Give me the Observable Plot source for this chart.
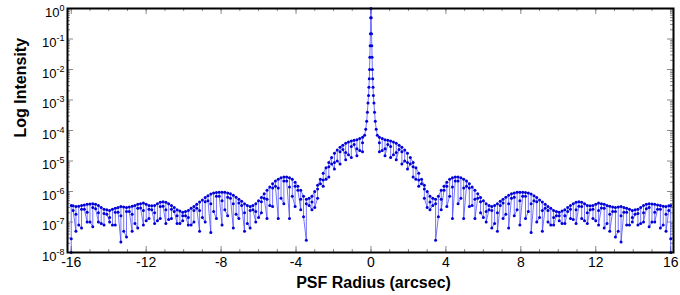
<!DOCTYPE html>
<html><head><meta charset="utf-8">
<script src="https://cdn.jsdelivr.net/npm/d3@7"></script>
<script src="https://cdn.jsdelivr.net/npm/@observablehq/plot@0.6"></script>
<style>body{margin:0;background:#fff}</style>
</head><body><div id="chart"></div>
<script>
// ---- data (profile is symmetric about 0) ----
const coreR = [0, 0.015, 0.03, 0.045, 0.06, 0.075, 0.09, 0.11, 0.13, 0.16, 0.19, 0.23, 0.28, 0.34];
const coreI = [1.0, 0.5, 0.15, 0.06, 0.025, 0.01, 5e-3, 2.6e-3, 1.4e-3, 8e-4, 4e-4, 2e-4, 1.1e-4, 7e-5];

// main sample columns: envelope top, band point, dip
const colR = [0.45,0.75,1.05,1.35,1.65,1.95,2.25,2.55,2.85,3.15,3.45,3.75,4.05,4.35,4.65,4.95,5.25,5.55,5.85,6.15,6.45,6.75,7.05,7.35,7.65,7.95,8.25,8.55,8.85,9.15,9.45,9.75,10.05,10.35,10.65,10.95,11.25,11.55,11.85,12.15,12.45,12.75,13.05,13.35,13.65,13.95,14.25,14.55,14.85,15.15,15.45,15.75,16.0];
const colTop = [6e-5,5e-5,4.5e-5,3.8e-5,2.8e-5,1.8e-5,9e-6,4e-6,1.6e-6,7e-7,5.6e-7,1.1e-6,2e-6,2.8e-6,3e-6,2.5e-6,1.8e-6,1.1e-6,6.3e-7,4e-7,3.2e-7,4e-7,5.6e-7,7.6e-7,9e-7,9.5e-7,9.3e-7,8.3e-7,6.3e-7,4.5e-7,3.2e-7,2.4e-7,2.1e-7,2.5e-7,3.5e-7,4.4e-7,4.4e-7,3.5e-7,3.5e-7,4.2e-7,3.8e-7,3.3e-7,3e-7,3.2e-7,2.8e-7,2.4e-7,2.6e-7,3.5e-7,4e-7,3.8e-7,3.5e-7,3.2e-7,3.5e-7];
const colMid = [4e-5,2.5e-5,3e-5,1.9e-5,2e-5,9e-6,6.5e-6,2.4e-6,1.2e-6,4.5e-7,4e-7,5.6e-7,1.5e-6,1.4e-6,2.2e-6,1.3e-6,1.3e-6,5.6e-7,4.6e-7,2.2e-7,2.4e-7,2e-7,4.2e-7,4e-7,6.5e-7,5e-7,7e-7,4e-7,4.6e-7,2.4e-7,2.4e-7,1.4e-7,1.6e-7,1.6e-7,2.6e-7,2.5e-7,3.2e-7,2e-7,2.6e-7,2.4e-7,2.8e-7,1.8e-7,2.2e-7,1.6e-7,2.1e-7,1.4e-7,1.9e-7,2e-7,3e-7,2.1e-7,2.6e-7,1.8e-7,2.8e-8];
const colLow = [2e-5,1.5e-5,1.3e-5,1.1e-5,8e-6,5.5e-6,3e-6,1.5e-6,6e-7,2.5e-7,2.5e-8,2.5e-7,3.2e-7,1.3e-7,4e-7,1.3e-7,3.2e-7,1.3e-7,2e-7,1e-7,6.3e-8,5e-8,1.3e-7,6.3e-8,1.6e-7,8e-8,1.3e-7,4.5e-8,1e-7,5e-8,1e-7,8e-8,1.1e-7,9e-8,1.3e-7,9e-8,1.3e-7,9e-8,1.3e-7,8e-8,6.3e-8,5e-8,3.2e-8,2.2e-8,8e-8,1e-7,8e-8,1e-7,7e-8,1e-7,6.3e-8,5e-8,1e-8];

// in-between sample columns: envelope top and a lower point
const halfR = [0.6,0.9,1.2,1.5,1.8,2.1,2.4,2.7,3.0,3.3,3.6,3.9,4.2,4.5,4.8,5.1,5.4,5.7,6.0,6.3,6.6,6.9,7.2,7.5,7.8,8.1,8.4,8.7,9.0,9.3,9.6,9.9,10.2,10.5,10.8,11.1,11.4,11.7,12.0,12.3,12.6,12.9,13.2,13.5,13.8,14.1,14.4,14.7,15.0,15.3,15.6,15.9];
const halfTop = [5.5e-5,4.8e-5,4.2e-5,3.3e-5,2.3e-5,1.3e-5,6e-6,2.5e-6,1e-6,6e-7,7e-7,1.5e-6,2.5e-6,3e-6,2.8e-6,2.2e-6,1.4e-6,8.5e-7,5e-7,3.5e-7,3.5e-7,4.8e-7,6.5e-7,8.5e-7,9.5e-7,9.5e-7,9e-7,7.3e-7,5.3e-7,3.8e-7,2.8e-7,2.2e-7,2.3e-7,3e-7,4e-7,4.6e-7,4e-7,3.4e-7,3.8e-7,4e-7,3.5e-7,3.1e-7,3.1e-7,3e-7,2.6e-7,2.5e-7,3e-7,3.8e-7,3.9e-7,3.6e-7,3.3e-7,3.4e-7];
const halfMid = [2.2e-5,3.5e-5,1.6e-5,2.4e-5,1e-5,8e-6,2.5e-6,1.8e-6,3e-7,3.5e-7,1.5e-7,1.1e-6,7e-7,2.2e-6,6e-7,1.5e-6,3.5e-7,6e-7,1.4e-7,2.5e-7,9e-8,3.5e-7,1.8e-7,6e-7,2.5e-7,7e-7,2.2e-7,5e-7,1.4e-7,2.8e-7,8e-8,1.6e-7,9e-8,2.2e-7,1.2e-7,3.3e-7,1.1e-7,2.5e-7,1.1e-7,2.9e-7,9e-8,2.2e-7,5e-8,2.1e-7,8e-8,1.8e-7,9e-8,2.7e-7,1e-7,2.6e-7,8e-8,2.4e-7];

const xTicks = [-16,-12,-8,-4,0,4,8,12,16];
const yTicks = [1e-8,1e-7,1e-6,1e-5,1e-4,1e-3,1e-2,1e-1,1];
const xTitle = "PSF Radius (arcsec)";
const yTitle = "Log Intensity";

// ---- build ordered point table ----
const rightCore = coreR.slice(1).map((r,i)=>({x:r, y:coreI[i+1]}));
const rightCols = [];
colR.forEach((r,i)=>{
  rightCols.push({x:r,y:colTop[i]},{x:r,y:colMid[i]},{x:r,y:colLow[i]});
  if (i < halfR.length) rightCols.push({x:halfR[i],y:halfMid[i]},{x:halfR[i],y:halfTop[i]});
});
const right = [...rightCore, ...rightCols];
const left = right.slice().reverse().map(d=>({x:-d.x, y:d.y}));
const pts = [...left, {x:coreR[0], y:coreI[0]}, ...right];

// minor ticks
const xMinor = d3.range(-16,17,1);
const yMinor = [];
for (let k=-8;k<0;k++) for (let m=2;m<10;m++) yMinor.push(m*Math.pow(10,k));

const W=680,H=295,mL=67,mR=7,mT=8,mB=43;
const pw=W-mL-mR, ph=H-mT-mB;
const tickC="#8a8a8a";

const chart = Plot.plot({
  width:W, height:H, marginLeft:mL, marginRight:mR, marginTop:mT, marginBottom:mB,
  style:{fontFamily:"'Liberation Sans', Arial, sans-serif", background:"#fff", color:"#000"},
  x:{domain:[-16.2,16.15]},
  y:{type:"log", domain:[1e-8,1], axis:null},
  marks:[
    Plot.tickY(yTicks,{y:d=>d, insetRight:pw-6, stroke:tickC}),
    Plot.tickY(yMinor,{y:d=>d, insetRight:pw-3, stroke:tickC}),
    Plot.tickY(yTicks,{y:d=>d, insetLeft:pw-6, stroke:tickC}),
    Plot.tickY(yMinor,{y:d=>d, insetLeft:pw-3, stroke:tickC}),
    Plot.tickX(xTicks,{x:d=>d, insetTop:ph-6, stroke:tickC}),
    Plot.tickX(xMinor,{x:d=>d, insetTop:ph-3, stroke:tickC}),
    Plot.tickX(xTicks,{x:d=>d, insetBottom:ph-6, stroke:tickC}),
    Plot.tickX(xMinor,{x:d=>d, insetBottom:ph-3, stroke:tickC}),
    Plot.line(pts,{x:"x", y:"y", stroke:"#4848ff", strokeWidth:0.85, strokeOpacity:0.9}),
    Plot.dot(pts,{x:"x", y:"y", r:1.5, fill:"#0000d8", stroke:null}),
    Plot.frame({stroke:"#000", strokeWidth:2}),
    Plot.axisX({ticks:xTicks, tickSize:0, tickPadding:5, fontSize:14, label:null, tickFormat:d=>String(d)}),
    Plot.text(yTicks,{y:d=>d, text:d=>"10|"+Math.round(Math.log10(d)), frameAnchor:"left", textAnchor:"end", dx:-3, dy:4, fontSize:13, className:"ylab"}),
    Plot.text([xTitle],{frameAnchor:"bottom", lineAnchor:"middle", dx:3, dy:30, fontSize:16, fontWeight:"bold"}),
    Plot.text([yTitle],{frameAnchor:"left", dx:-47, dy:7, rotate:-90, fontSize:16, fontWeight:"bold"})
  ]
});
// superscript exponents for the y tick labels
chart.querySelectorAll(".ylab text").forEach(t=>{
  const [b,e] = t.textContent.split("|");
  t.textContent = "";
  const ns="http://www.w3.org/2000/svg";
  const s1=document.createElementNS(ns,"tspan"); s1.textContent=b;
  const s2=document.createElementNS(ns,"tspan"); s2.textContent=e;
  s2.setAttribute("font-size","9"); s2.setAttribute("dy","-6");
  t.appendChild(s1); t.appendChild(s2);
});
document.getElementById("chart").appendChild(chart);
</script>
</body></html>
